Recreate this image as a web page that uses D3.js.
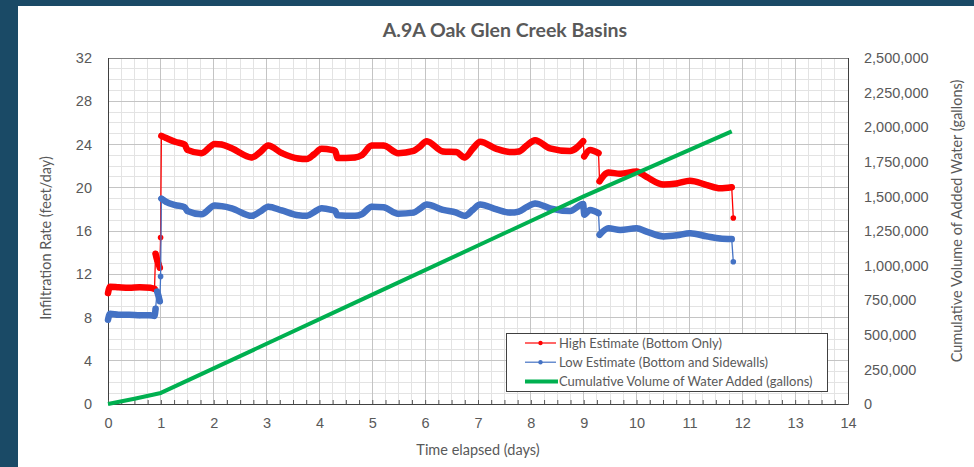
<!DOCTYPE html>
<html>
<head>
<meta charset="utf-8">
<title>A.9A Oak Glen Creek Basins</title>
<style>
    body {
        margin: 0;
        background: #1a4a66;
        font-family: Lato, "Open Sans", sans-serif;
    }
    svg text {
        fill: #595959;
    }
    .axis path {
        display: none;
    }
    .axis text {
        font-size: 14.5px;
    }
</style>
</head>
<body>
<svg id="chart" width="974" height="467"></svg>
<script src="https://d3js.org/d3.v7.min.js"></script>
<script>
    // time elapsed (days), shared by both rate series
    var days = [0, 0.04, 0.2, 0.4, 0.6, 0.8, 0.88, 0.9, 0.93, 0.96, 0.98, 0.995,
        1.01, 1.1, 1.27, 1.45, 1.5, 1.77, 2.02, 2.15, 2.34, 2.72, 2.88, 3.03, 3.29, 3.6, 3.76,
        3.9, 4.04, 4.23, 4.3, 4.34, 4.67, 4.8, 4.99, 5.21, 5.49, 5.78, 5.9, 6.03, 6.34, 6.59,
        6.75, 6.9, 7.04, 7.35, 7.61, 7.77, 7.92, 8.08, 8.36, 8.74, 8.99, 9.01, 9.12, 9.28, 9.3,
        9.47, 9.69, 10.0, 10.19, 10.51, 10.76, 11.01, 11.33, 11.58, 11.8, 11.83];

    // High Estimate (Bottom Only), feet/day
    var highRate = [10.25, 10.85, 10.8, 10.75, 10.8, 10.75, 10.65, 13.9, 13.3, 12.9, 12.6, 15.4,
        24.8, 24.6, 24.25, 24.0, 23.5, 23.2, 24.05, 24.0, 23.65, 22.8, 23.3, 23.9, 23.2, 22.7, 22.65,
        23.1, 23.6, 23.5, 23.4, 22.75, 22.8, 23.0, 23.9, 23.9, 23.2, 23.4, 23.8, 24.3, 23.35, 23.3,
        22.8, 23.6, 24.25, 23.6, 23.3, 23.35, 23.9, 24.4, 23.65, 23.4, 24.3, 22.9, 23.5, 23.2, 20.6,
        21.4, 21.3, 21.5, 21.0, 20.3, 20.4, 20.65, 20.25, 19.95, 20.05, 17.2];

    // Low Estimate (Bottom and Sidewalls), feet/day
    var lowRate = [7.8, 8.35, 8.25, 8.25, 8.2, 8.2, 8.15, 8.8, 10.4, 9.9, 9.5, 11.8,
        19.0, 18.7, 18.4, 18.2, 17.85, 17.55, 18.35, 18.3, 18.1, 17.4, 17.8, 18.25, 17.9, 17.45, 17.4,
        17.75, 18.1, 17.95, 17.85, 17.45, 17.4, 17.55, 18.25, 18.2, 17.6, 17.7, 18.05, 18.45, 17.95, 17.7,
        17.4, 17.95, 18.45, 18.0, 17.7, 17.8, 18.2, 18.55, 18.1, 17.85, 18.5, 17.5, 17.95, 17.65, 15.65,
        16.25, 16.1, 16.25, 15.95, 15.5, 15.6, 15.8, 15.5, 15.3, 15.25, 13.15];

    // Cumulative Volume of Water Added (gallons)
    var volumeDays = [0, 0.5, 1, 3, 5, 7, 9, 11.8];
    var volume = [0, 38000, 80000, 435000, 790000, 1145000, 1500000, 1970000];

    var leftTicks = [0, 4, 8, 12, 16, 20, 24, 28, 32];
    var rightTicks = [0, 250000, 500000, 750000, 1000000, 1250000, 1500000, 1750000, 2000000, 2250000, 2500000];
    var dayTicks = [0, 1, 2, 3, 4, 5, 6, 7, 8, 9, 10, 11, 12, 13, 14];

    var seriesNames = ["High Estimate (Bottom Only)", "Low Estimate (Bottom and Sidewalls)",
        "Cumulative Volume of Water Added (gallons)"];

    var svg = d3.select("#chart");

    // white panel
    svg.append("rect")
        .attr("x", 18).attr("y", 6)
        .attr("width", 960).attr("height", 470)
        .attr("fill", "#ffffff");

    var x = d3.scaleLinear().domain([0, 14]).range([108, 848]);
    var y = d3.scaleLinear().domain([0, 32]).range([404, 58]);
    var y2 = d3.scaleLinear().domain([0, 2500000]).range([404, 58]);

    // grid
    var grid = svg.append("g");
    grid.selectAll(".vminor")
        .data(d3.range(0, 14.001, 0.25))
        .enter().append("line")
        .attr("x1", d => x(d)).attr("x2", d => x(d))
        .attr("y1", y(0)).attr("y2", y(32))
        .attr("stroke", "#e3e3e3").attr("stroke-width", 1)
        .attr("shape-rendering", "crispEdges");
    grid.selectAll(".hminor")
        .data(d3.range(0, 32.001, 1))
        .enter().append("line")
        .attr("x1", x(0)).attr("x2", x(14))
        .attr("y1", d => y(d)).attr("y2", d => y(d))
        .attr("stroke", "#e3e3e3").attr("stroke-width", 1)
        .attr("shape-rendering", "crispEdges");
    grid.selectAll(".vmajor")
        .data(dayTicks)
        .enter().append("line")
        .attr("x1", d => x(d)).attr("x2", d => x(d))
        .attr("y1", y(0)).attr("y2", y(32))
        .attr("stroke", "#c4c4c4").attr("stroke-width", 1)
        .attr("shape-rendering", "crispEdges");
    grid.selectAll(".hmajor")
        .data(leftTicks)
        .enter().append("line")
        .attr("x1", x(0)).attr("x2", x(14))
        .attr("y1", d => y(d)).attr("y2", d => y(d))
        .attr("stroke", "#c4c4c4").attr("stroke-width", 1)
        .attr("shape-rendering", "crispEdges");

    // plot border
    svg.append("rect")
        .attr("x", x(0)).attr("y", y(32))
        .attr("width", x(14) - x(0)).attr("height", y(0) - y(32))
        .attr("fill", "none").attr("stroke", "#7f7f7f")
        .attr("shape-rendering", "crispEdges");
    [[x(0), y(0), x(14), y(0)], [x(0), y(0), x(0), y(32)], [x(14), y(0), x(14), y(32)]].forEach(function(l) {
        svg.append("line")
            .attr("x1", l[0]).attr("y1", l[1]).attr("x2", l[2]).attr("y2", l[3])
            .attr("stroke", "#404040").attr("shape-rendering", "crispEdges");
    });

    // minor ticks on time axis
    svg.append("g")
        .attr("transform", "translate(0," + y(0) + ")")
        .call(d3.axisBottom(x).tickValues(d3.range(0, 14.001, 0.25)).tickSize(-4).tickFormat(""))
        .call(g => g.select(".domain").remove())
        .selectAll("line").attr("stroke", "#595959");

    // axes
    svg.append("g")
        .attr("class", "axis")
        .attr("transform", "translate(0," + y(0) + ")")
        .call(d3.axisBottom(x).tickValues(dayTicks).tickSize(0).tickPadding(14));

    svg.append("g")
        .attr("class", "axis")
        .attr("transform", "translate(" + x(0) + ",0)")
        .call(d3.axisLeft(y).tickValues(leftTicks).tickSize(0).tickPadding(16));

    svg.append("g")
        .attr("class", "axis")
        .attr("transform", "translate(" + x(14) + ",0)")
        .call(d3.axisRight(y2).tickValues(rightTicks).tickSize(0).tickPadding(16)
            .tickFormat(d3.format(",")));

    svg.selectAll(".axis text").attr("fill", "#595959");

    // series
    var line = d3.line().x(d => x(d[0])).y(d => y(d[1]));
    var smooth = d3.line().curve(d3.curveMonotoneX).x(d => x(d[0])).y(d => y(d[1]));

    function drawRate(values, color) {
        var pts = days.map((d, i) => [d, values[i]]);
        var g = svg.append("g");
        g.append("path")
            .attr("d", line(pts))
            .attr("fill", "none").attr("stroke", color).attr("stroke-width", 1.3);
        // dense marker runs
        var runs = [],
            cur = [pts[0]];
        for (var i = 1; i < pts.length; i++) {
            if (Math.abs(pts[i][1] - pts[i - 1][1]) > 1.2) {
                runs.push(cur);
                cur = [];
            }
            cur.push(pts[i]);
        }
        runs.push(cur);
        runs.filter(r => r.length > 1).forEach(function(r) {
            g.append("path")
                .attr("d", smooth(r))
                .attr("fill", "none").attr("stroke", color)
                .attr("stroke-width", 6.5)
                .attr("stroke-linejoin", "round").attr("stroke-linecap", "round");
        });
        g.selectAll("circle")
            .data(pts)
            .enter().append("circle")
            .attr("cx", d => x(d[0])).attr("cy", d => y(d[1]))
            .attr("r", 2.8).attr("fill", color);
    }

    drawRate(highRate, "#ff0000");
    drawRate(lowRate, "#4472c4");

    var volLine = d3.line().x((d, i) => x(volumeDays[i])).y(d => y2(d));
    svg.append("path")
        .attr("d", volLine(volume))
        .attr("fill", "none").attr("stroke", "#00b050").attr("stroke-width", 4)
        .attr("stroke-linejoin", "round");

    // legend
    var legend = svg.append("g").attr("transform", "translate(506,333)");
    legend.append("rect")
        .attr("width", 321).attr("height", 58)
        .attr("fill", "#ffffff").attr("stroke", "#404040")
        .attr("shape-rendering", "crispEdges");
    var colors = ["#ff0000", "#4472c4", "#00b050"];
    seriesNames.forEach(function(name, i) {
        var ly = 10 + i * 19.2;
        legend.append("line")
            .attr("x1", 19).attr("x2", i == 2 ? 52 : 50)
            .attr("y1", ly).attr("y2", ly)
            .attr("stroke", colors[i]).attr("stroke-width", i == 2 ? 4 : 1.2);
        if (i < 2) {
            legend.append("circle")
                .attr("cx", 34.5).attr("cy", ly).attr("r", 2.2).attr("fill", colors[i]);
        }
        legend.append("text")
            .attr("x", 53).attr("y", ly + 4.6)
            .attr("font-size", "13px")
            .text(name);
    });

    // titles
    svg.append("text")
        .attr("x", 505).attr("y", 37)
        .attr("text-anchor", "middle")
        .attr("font-size", "19.5px").attr("font-weight", "bold")
        .text("A.9A Oak Glen Creek Basins");

    svg.append("text")
        .attr("x", 478).attr("y", 455)
        .attr("text-anchor", "middle")
        .attr("font-size", "14.5px")
        .text("Time elapsed (days)");

    svg.append("text")
        .attr("transform", "translate(51,238) rotate(-90)")
        .attr("text-anchor", "middle")
        .attr("font-size", "14.5px")
        .text("Infiltration Rate (feet/day)");

    svg.append("text")
        .attr("transform", "translate(962,221) rotate(-90)")
        .attr("text-anchor", "middle")
        .attr("font-size", "14.5px")
        .text("Cumulative Volume of Added Water (gallons)");
</script>
</body>
</html>
